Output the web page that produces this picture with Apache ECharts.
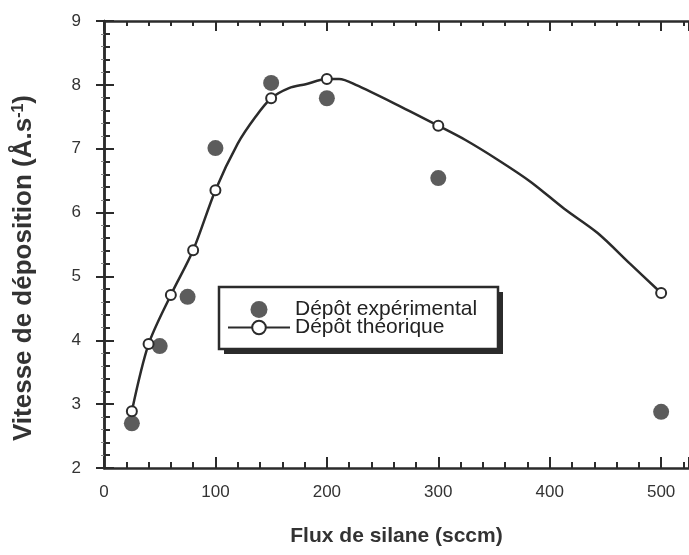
<!DOCTYPE html>
<html>
<head>
<meta charset="utf-8">
<script src="https://cdn.jsdelivr.net/npm/echarts@6/dist/echarts.min.js"></script>
<style>
  html, body { margin: 0; padding: 0; background: #fff; }
  #chart { width: 689px; height: 555px; }
</style>
</head>
<body>
<div id="chart"></div>
<script>
// Experimental deposition rate vs silane flow
const fluxExp = [25, 50, 75, 100, 150, 200, 300, 500];
const vitExp = [2.70, 3.91, 4.68, 7.01, 8.03, 7.79, 6.54, 2.88];

// Theoretical deposition rate: computed points (drawn with open circles)
const fluxTheo = [25, 40, 60, 80, 100, 150, 200, 300, 500];
const vitTheo = [2.89, 3.94, 4.71, 5.41, 6.35, 7.79, 8.09, 7.36, 4.74];

// Additional points along the theoretical curve (no marker)
const fluxCourbe = [120, 136, 166, 181, 211, 226, 264, 324, 354, 383, 413, 443, 472];
const vitCourbe = [7.08, 7.50, 7.95, 8.01, 8.09, 8.00, 7.68, 7.14, 6.82, 6.48, 6.06, 5.68, 5.20];

// Axis ranges / ticks
const xMin = 0, xMax = 525, xStep = 100;
const yMin = 2, yMax = 9, yStep = 1;

const ink = '#2b2b2b';

const expData = fluxExp.map((x, i) => [x, vitExp[i]]);
const theoData = fluxTheo.map((x, i) => ({ value: [x, vitTheo[i]] }))
  .concat(fluxCourbe.map((x, i) => ({ value: [x, vitCourbe[i]], symbol: 'none' })))
  .sort((a, b) => a.value[0] - b.value[0]);

const chart = echarts.init(document.getElementById('chart'), null, { renderer: 'canvas' });

const baseAxis = {
  axisLine: { lineStyle: { color: ink, width: 2.5 } },
  splitLine: { show: false },
};

// Legend frame with a solid drop shadow
const legendBox = { x: 219, y: 287, width: 279, height: 62, shadow: 5 };

chart.setOption({
  animation: false,
  backgroundColor: '#fff',
  textStyle: { fontFamily: 'Liberation Sans, Arial, sans-serif' },
  grid: { left: 104, top: 21, width: 588, height: 447 },
  xAxis: [
    Object.assign({}, baseAxis, {
      type: 'value', min: xMin, max: xMax, interval: xStep,
      position: 'bottom',
      axisTick: { inside: true, length: 11, lineStyle: { color: ink, width: 2 } },
      minorTick: { show: true, splitNumber: 5, length: 6, lineStyle: { color: ink, width: 2 } },
      axisLabel: { margin: 16, fontSize: 17, color: '#333', showMaxLabel: false },
      name: 'Flux de silane (sccm)',
      nameLocation: 'middle', nameGap: 58,
      nameTextStyle: { fontSize: 21, fontWeight: 'bold', color: '#333' }
    }),
    Object.assign({}, baseAxis, {
      type: 'value', min: xMin, max: xMax, interval: xStep,
      position: 'top',
      axisTick: { inside: true, length: 10, lineStyle: { color: ink, width: 2 } },
      minorTick: { show: true, splitNumber: 5, length: 5, lineStyle: { color: ink, width: 2 } },
      axisLabel: { show: false }
    })
  ],
  yAxis: [
    Object.assign({}, baseAxis, {
      type: 'value', min: yMin, max: yMax, interval: yStep,
      position: 'left',
      axisTick: { inside: true, length: 10, lineStyle: { color: ink, width: 2 } },
      minorTick: { show: true, splitNumber: 5, length: 6, lineStyle: { color: ink, width: 2 } },
      axisLabel: { margin: 23, fontSize: 17, color: '#333' }
    }),
    Object.assign({}, baseAxis, {
      type: 'value', min: yMin, max: yMax, interval: yStep,
      position: 'right',
      axisTick: { inside: true, length: 8, lineStyle: { color: ink, width: 2 } },
      minorTick: { show: true, splitNumber: 5, length: 3, lineStyle: { color: '#888', width: 1 } },
      axisLabel: { show: false }
    })
  ],
  legend: {
    orient: 'vertical',
    left: legendBox.x, top: legendBox.y,
    padding: [12, 20, 13, 8],
    itemGap: -3,
    itemWidth: 62, itemHeight: 17,
    z: 10,
    textStyle: { fontSize: 21, lineHeight: 18, color: '#222' },
    data: ['Dépôt expérimental', 'Dépôt théorique']
  },
  graphic: [
    {
      type: 'rect', z: 8,
      shape: { x: legendBox.x + legendBox.shadow, y: legendBox.y + legendBox.shadow,
               width: legendBox.width, height: legendBox.height },
      style: { fill: ink }
    },
    {
      type: 'rect', z: 9,
      shape: { x: legendBox.x, y: legendBox.y, width: legendBox.width, height: legendBox.height },
      style: { fill: '#fff', stroke: ink, lineWidth: 2.5 }
    },
    {
      type: 'text',
      x: 24, y: 268,
      rotation: Math.PI / 2,
      style: {
        text: 'Vitesse de déposition (Å.s{sup|-1})',
        rich: { sup: { fontSize: 16, fontWeight: 'bold', verticalAlign: 'top', padding: [0, 0, 9, 0], fill: '#333' } },
        font: 'bold 26px "Liberation Sans", Arial, sans-serif',
        fill: '#333',
        align: 'center',
        verticalAlign: 'middle'
      }
    }
  ],
  series: [
    {
      name: 'Dépôt expérimental',
      type: 'scatter',
      data: expData,
      symbol: 'circle',
      symbolSize: 16,
      itemStyle: { color: '#333' },
      z: 2
    },
    {
      name: 'Dépôt théorique',
      type: 'line',
      data: theoData,
      smooth: 0.3,
      symbol: 'emptyCircle',
      symbolSize: 10,
      showAllSymbol: true,
      lineStyle: { color: ink, width: 2.5 },
      itemStyle: { color: ink, borderColor: ink, borderWidth: 2 },
      z: 3
    }
  ]
});
</script>
</body>
</html>
